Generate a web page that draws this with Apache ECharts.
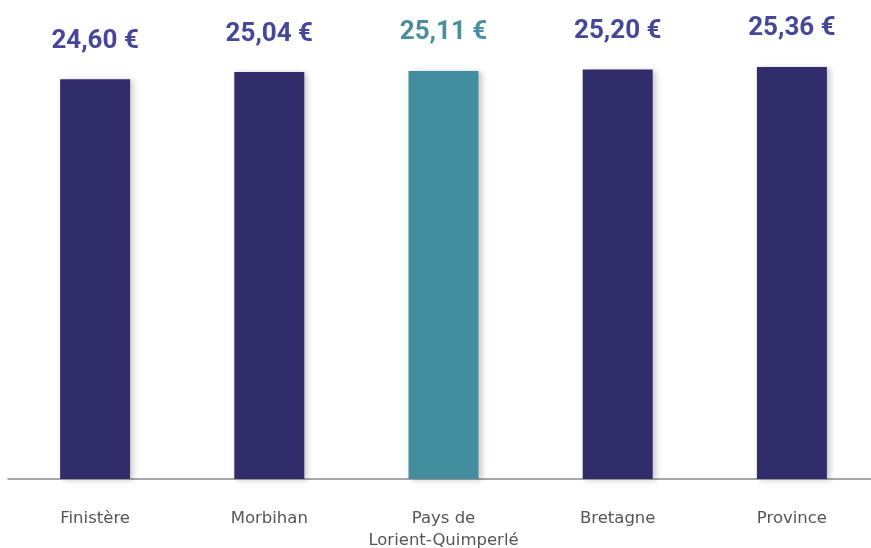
<!DOCTYPE html>
<html>
<head>
<meta charset="utf-8">
<script src="https://cdn.jsdelivr.net/npm/echarts@6/dist/echarts.min.js"></script>
<style>
  html, body { margin: 0; padding: 0; background: #fff; }
  #chart { width: 871px; height: 548px; }
</style>
</head>
<body>
<div id="chart"></div>
<script>
var categories = ['Finistère', 'Morbihan', 'Pays de\nLorient-Quimperlé', 'Bretagne', 'Province']
var values = [24.60, 25.04, 25.11, 25.20, 25.36]
var highlight = 'Pays de\nLorient-Quimperlé'

var barColor = '#302d6a'
var barHighlight = '#438e9e'
var labelColor = '#46469a'
var labelHighlight = '#4a8f9d'

var chart = echarts.init(document.getElementById('chart'))

var data = values.map(function (v, i) {
  var hl = categories[i] === highlight
  return {
    value: v,
    itemStyle: { color: hl ? barHighlight : barColor },
    label: { color: hl ? labelHighlight : labelColor }
  }
})

chart.setOption({
  animation: false,
  grid: { left: 8, right: -8, top: 24, bottom: 69, outerBoundsMode: 'none', containLabel: false },
  xAxis: {
    type: 'category',
    data: categories,
    axisTick: { show: false },
    axisLine: { lineStyle: { color: '#8a8a8a', width: 1.5 } },
    axisLabel: {
      color: '#555',
      fontSize: 16.5,
      fontFamily: 'DejaVu Sans',
      margin: 29,
      lineHeight: 22,
      interval: 0
    }
  },
  yAxis: {
    type: 'value',
    min: 0,
    max: 28,
    show: false
  },
  series: [{
    type: 'bar',
    barWidth: 70,
    data: data,
    itemStyle: {
      shadowBlur: 6,
      shadowOffsetX: 3,
      shadowOffsetY: 1,
      shadowColor: 'rgba(0,0,0,0.22)'
    },
    label: {
      show: true,
      position: 'top',
      distance: 25,
      fontSize: 26,
      fontWeight: 'bold',
      fontFamily: 'Roboto',
      formatter: function (p) {
        return p.value.toFixed(2).replace('.', ',') + ' €'
      }
    }
  }]
})
</script>
</body>
</html>
